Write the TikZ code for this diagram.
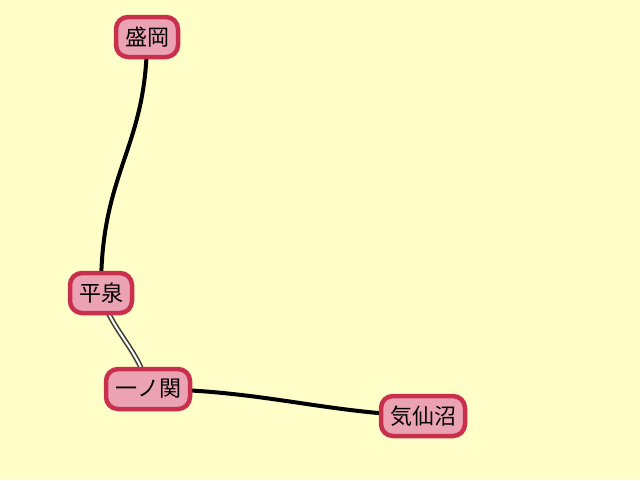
\documentclass[tikz,border=0pt]{standalone}
\usepackage{fontspec}
\setmainfont{Noto Sans CJK JP}
\usetikzlibrary{shadows}
\definecolor{bg}{HTML}{FFFDC8}
\definecolor{nodefill}{HTML}{EBA3B4}
\definecolor{nodeedge}{HTML}{C9304E}
\definecolor{dbl}{HTML}{3E3E34}
\pgfdeclarelayer{bglayer}
\pgfdeclarelayer{linelayer}
\pgfsetlayers{bglayer,linelayer,main}
\tikzset{
  station/.style={draw=nodeedge, line width=4.5pt, fill=nodefill, rounded corners=12pt,
    minimum height=40pt, inner xsep=9pt, font=\fontsize{22pt}{25pt}\selectfont,
    drop shadow={shadow xshift=0pt, shadow yshift=-1.5pt, opacity=0.3, fill=black!70}},
  railline/.style={line width=4pt, black},
  dblline/.style={double=white, double distance=2pt, line width=1.6pt, draw=dbl}
}
\begin{document}
\begin{tikzpicture}[x=1pt,y=-1pt]
\useasboundingbox (0,0) rectangle (640,480);
\begin{pgfonlayer}{bglayer}
\fill[bg] (0,0) rectangle (640,480);
\end{pgfonlayer}
\node[station] (morioka) at (147,37) {盛岡};
\node[station] (hiraizumi) at (101,293) {平泉};
\node[station] (ichinoseki) at (148,389) {一ノ関};
\node[station] (kesennuma) at (423,416) {気仙沼};
\begin{pgfonlayer}{linelayer}
\draw[railline] (morioka.center) .. controls (147,150) and (100,170) .. (hiraizumi.center);
\draw[dblline] (hiraizumi.center) .. controls (110,330) and (140,350) .. (ichinoseki.center);
\draw[railline] (ichinoseki.center) .. controls (260,390) and (320,412) .. (kesennuma.center);
\end{pgfonlayer}
\end{tikzpicture}
\end{document}
